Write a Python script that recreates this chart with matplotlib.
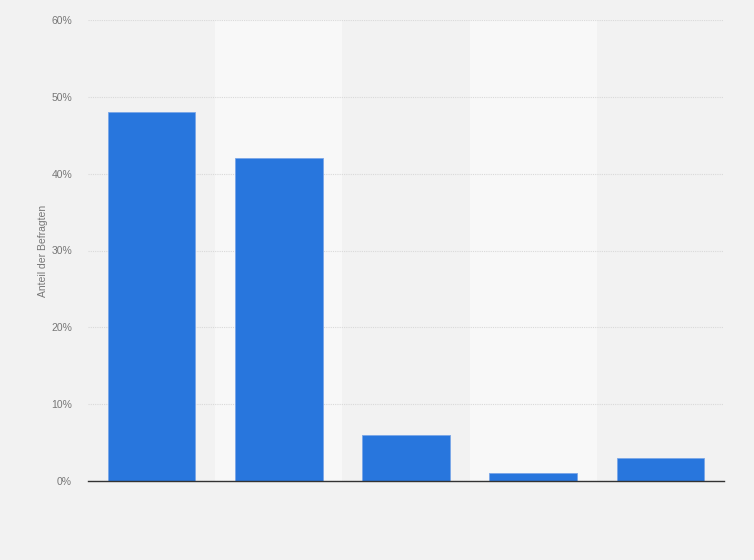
import numpy as np
import matplotlib.pyplot as plt
from matplotlib.ticker import FuncFormatter

plt.rcParams['font.family'] = ['Liberation Sans', 'DejaVu Sans']

categories = ["1", "2", "3", "4", "5"]
values = [48, 42, 6, 1, 3]
yticks = [0, 10, 20, 30, 40, 50, 60]

fig = plt.figure(figsize=(7.54, 5.6), dpi=100)
fig.patch.set_facecolor('#f2f2f2')
ax = fig.add_axes([88/754, 79/560, 636/754, 461/560])
ax.set_facecolor('#f2f2f2')

x = np.arange(len(categories))
# alternating lighter column bands
for i in x:
    if i % 2 == 1:
        ax.axvspan(i - 0.5, i + 0.5, color='#f8f8f8', zorder=0, lw=0)

ax.bar(x, values, width=0.69, color='#2876dd', edgecolor='#7aa6e8', linewidth=0.6, zorder=3)

ax.set_xlim(-0.5, len(categories) - 0.5)
ax.set_ylim(0, 60)
ax.set_yticks(yticks)
ax.yaxis.set_major_formatter(FuncFormatter(lambda v, p: f"{v:.0f}%"))
ax.set_xticks([])
ax.tick_params(axis='y', length=0, pad=11.5, labelsize=7.5, labelcolor='#777777')
ax.grid(axis='y', color='#d9d9d9', linestyle=(0, (1, 1)), linewidth=0.8, zorder=1)

for s in ['top', 'right', 'left']:
    ax.spines[s].set_visible(False)
ax.spines['bottom'].set_color('#333333')
ax.spines['bottom'].set_linewidth(1.0)
ax.spines['bottom'].set_zorder(4)

ax.set_ylabel("Anteil der Befragten", fontsize=7.5, color='#777777', labelpad=2)

fig.savefig("out.png", dpi=100, facecolor=fig.get_facecolor())
